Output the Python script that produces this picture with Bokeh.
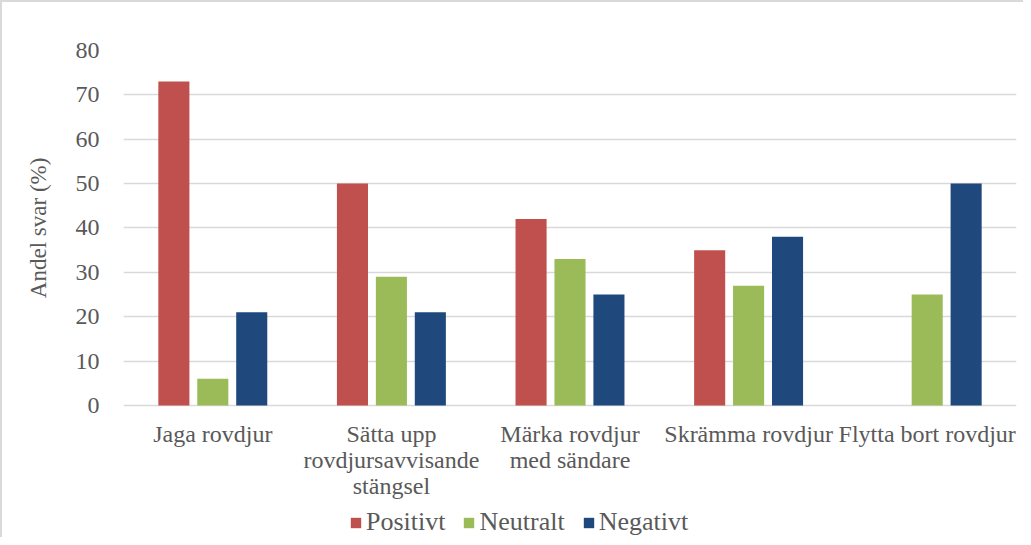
from bokeh.plotting import figure
from bokeh.models import FactorRange, Range1d, FixedTicker, Legend, LegendItem, ColumnDataSource
from bokeh.core.properties import value
from bokeh.transform import dodge
from bokeh.embed import file_html
from bokeh.resources import INLINE

categories = ["Jaga rovdjur", "Sätta upp\nrovdjursavvisande\nstängsel", "Märka rovdjur\nmed sändare",
              "Skrämma rovdjur", "Flytta bort rovdjur"]
positivt = [73, 50, 42, 35, 0]
neutralt = [6, 29, 33, 27, 25]
negativt = [21, 21, 25, 38, 50]
y_ticks = [0, 10, 20, 30, 40, 50, 60, 70, 80]

FONT = "Liberation Serif"
GRAY = "#595959"

src = ColumnDataSource(dict(cat=categories, pos=positivt, neu=neutralt, neg=negativt))

# frame extends below 0 so that the category labels and the legend sit inside it
p = figure(x_range=FactorRange(*categories, range_padding=0), y_range=Range1d(-29.75, 80),
           width=1023, height=537, output_backend="svg", toolbar_location=None,
           min_border_left=123, min_border_right=7, min_border_top=50, min_border_bottom=0,
           styles={"box-shadow": "inset 2px 2px 0 #d9d9d9"})
p.outline_line_color = None
p.border_fill_color = None
p.background_fill_color = None

bw = 0.174
off = 0.218
r1 = p.vbar(x=dodge("cat", -off, range=p.x_range), top="pos", width=bw, source=src,
            fill_color="#C0504D", line_color=None)
r2 = p.vbar(x=dodge("cat", 0, range=p.x_range), top="neu", width=bw, source=src,
            fill_color="#9BBB59", line_color=None)
r3 = p.vbar(x=dodge("cat", off, range=p.x_range), top="neg", width=bw, source=src,
            fill_color="#1F497D", line_color=None)

# category labels
p.text(x="cat", y=-3.4, text="cat", source=src, text_align="center", text_baseline="top",
       text_font=value(FONT), text_font_size="24px", text_color=GRAY, text_line_height=1.0)

p.xaxis.visible = False

p.yaxis.ticker = FixedTicker(ticks=y_ticks)
p.yaxis.axis_line_color = None
p.yaxis.major_tick_line_color = None
p.yaxis.minor_tick_line_color = None
p.yaxis.major_label_text_font = FONT
p.yaxis.major_label_text_font_size = "24px"
p.yaxis.major_label_text_color = GRAY
p.yaxis.major_label_standoff = 18
p.yaxis.axis_label = "\u00a0" * 23 + "Andel svar (%)"
p.yaxis.axis_label_text_font = FONT
p.yaxis.axis_label_text_font_size = "23px"
p.yaxis.axis_label_text_font_style = "normal"
p.yaxis.axis_label_text_color = GRAY
p.yaxis.axis_label_standoff = 22

p.xgrid.grid_line_color = None
p.ygrid.ticker = FixedTicker(ticks=y_ticks)
p.ygrid.grid_line_color = "#d9d9d9"
p.ygrid.grid_line_width = 1.5

legend = Legend(items=[LegendItem(label="Positivt", renderers=[r1]),
                       LegendItem(label="Neutralt", renderers=[r2]),
                       LegendItem(label="Negativt", renderers=[r3])],
                orientation="horizontal", location=(226, 0))
legend.border_line_color = None
legend.background_fill_alpha = 0
legend.padding = 0
legend.margin = 0
legend.spacing = 17
legend.glyph_width = 13
legend.glyph_height = 13
legend.label_standoff = 4
legend.label_text_font = FONT
legend.label_text_font_size = "26px"
legend.label_text_color = GRAY
p.add_layout(legend, "center")

open("out.html", "w").write(file_html(p, INLINE))
